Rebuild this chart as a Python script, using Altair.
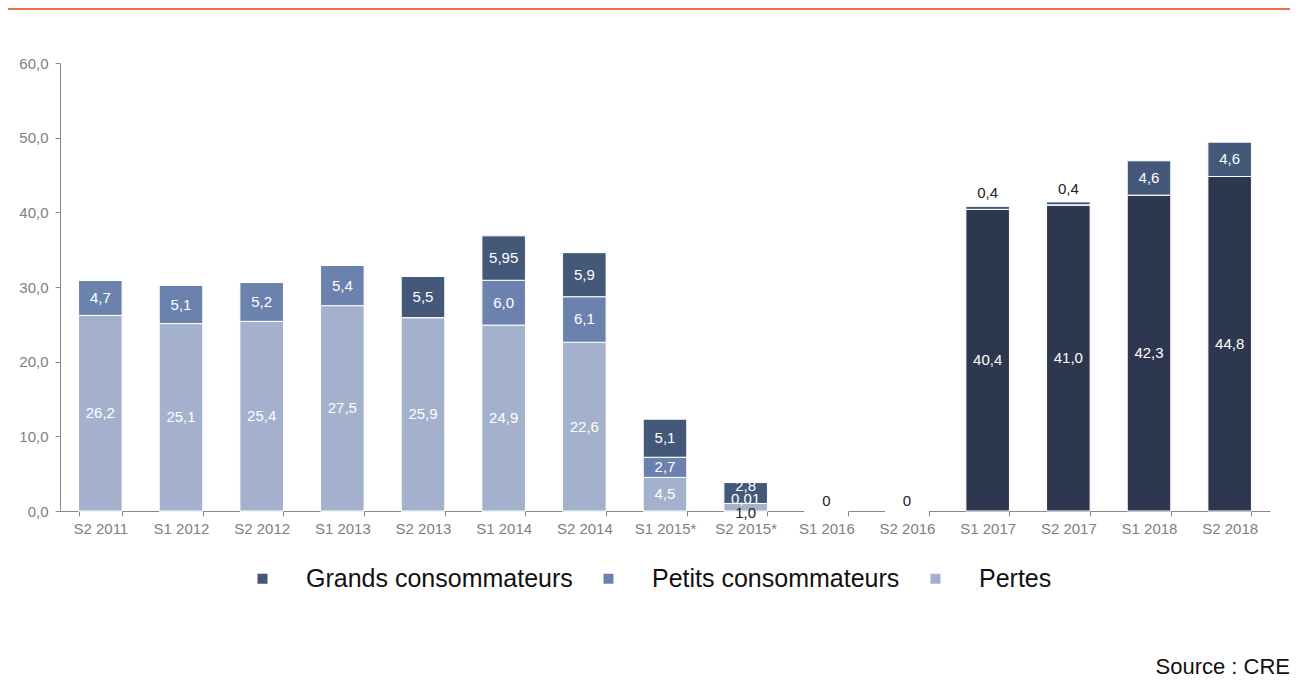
import altair as alt
import pandas as pd

periods = ["S2 2011", "S1 2012", "S2 2012", "S1 2013", "S2 2013", "S1 2014", "S2 2014",
           "S1 2015*", "S2 2015*", "S1 2016", "S2 2016", "S1 2017", "S2 2017", "S1 2018", "S2 2018"]
pertes = [26.2, 25.1, 25.4, 27.5, 25.9, 24.9, 22.6, 4.5, 1.0, 0, 0, 0, 0, 0, 0]
petits = [4.7, 5.1, 5.2, 5.4, 0, 6.0, 6.1, 2.7, 0.01, 0, 0, 0, 0, 0, 0]
grands = [0, 0, 0, 0, 5.5, 5.95, 5.9, 5.1, 2.8, 0, 0, 0.4, 0.4, 4.6, 4.6]
base = [0, 0, 0, 0, 0, 0, 0, 0, 0, 0, 0, 40.4, 41.0, 42.3, 44.8]

series_names = ["Grands consommateurs", "Petits consommateurs", "Pertes", "Base"]
series_colors = ["#44587A", "#6B82AE", "#A4B1CD", "#2D3850"]
stack_order = {"Base": 0, "Pertes": 1, "Petits consommateurs": 2, "Grands consommateurs": 3}

rows = []
for i, p in enumerate(periods):
    for name, vals in [("Base", base), ("Pertes", pertes),
                       ("Petits consommateurs", petits), ("Grands consommateurs", grands)]:
        rows.append({"period": p, "series": name, "value": vals[i], "ord": stack_order[name]})
df = pd.DataFrame(rows)

FONT = "Liberation Sans"
W, H = 1210, 448

xenc = alt.X("period:N", sort=periods, title=None,
             scale=alt.Scale(paddingInner=0.46, paddingOuter=0.23),
             axis=alt.Axis(labelAngle=0, labelColor="#808080", labelFontSize=15, labelFont=FONT,
                           domainColor="#8a8a8a", tickColor="#8a8a8a", tickSize=5,
                           tickBand="extent", labelPadding=5))
yscale = alt.Scale(domain=[0, 60])

bars = alt.Chart(df).mark_bar(stroke="white", strokeWidth=1).encode(
    x=xenc,
    y=alt.Y("value:Q", stack="zero", scale=yscale, title=None,
            axis=alt.Axis(values=[0, 10, 20, 30, 40, 50, 60], grid=False,
                          labelExpr="replace(format(datum.value, '.1f'), '.', ',')",
                          labelColor="#808080", labelFontSize=15, labelFont=FONT,
                          domainColor="#8a8a8a", tickColor="#8a8a8a", tickSize=5, labelPadding=7)),
    color=alt.Color("series:N", scale=alt.Scale(domain=series_names, range=series_colors),
                    legend=alt.Legend(values=series_names[:3], title=None, orient="none",
                                      direction="horizontal", legendX=190, legendY=503,
                                      symbolType="square", symbolSize=100, symbolStrokeWidth=0,
                                      labelFontSize=25, labelFont=FONT, labelColor="#111",
                                      labelLimit=0, labelOffset=31, columnPadding=23,
                                      symbolOpacity=1)),
    order=alt.Order("ord:Q"),
)

lbl_expr = ("datum.value == 0 ? '0' : replace(format(datum.value, "
            "abs(round(datum.value*10) - datum.value*10) < 1e-6 ? '.1f' : '.2f'), '.', ',')")

stacked = alt.Chart(df).transform_stack(
    stack="value", groupby=["period"], sort=[alt.SortField("ord")], as_=["y0", "y1"]
).transform_calculate(mid="(datum.y0 + datum.y1) / 2", lbl=lbl_expr)


def txt(color, dy, baseline="middle"):
    return stacked.mark_text(color=color, fontSize=15, font=FONT, dy=dy, baseline=baseline)


inside = txt("white", 0).transform_filter(
    "datum.value >= 1 && datum.period != 'S2 2015*'"
).encode(x=alt.X("period:N", sort=periods), y=alt.Y("mid:Q", scale=yscale), text="lbl:N")

above = txt("#222", -5, "bottom").transform_filter(
    "datum.value > 0 && datum.value < 1 && datum.period != 'S2 2015*'"
).encode(x=alt.X("period:N", sort=periods), y=alt.Y("y1:Q", scale=yscale), text="lbl:N")

s15_g = txt("white", -7).transform_filter(
    "datum.period == 'S2 2015*' && datum.series == 'Grands consommateurs'"
).encode(x=alt.X("period:N", sort=periods), y=alt.Y("mid:Q", scale=yscale), text="lbl:N")
s15_p = txt("white", -4).transform_filter(
    "datum.period == 'S2 2015*' && datum.series == 'Petits consommateurs'"
).encode(x=alt.X("period:N", sort=periods), y=alt.Y("mid:Q", scale=yscale), text="lbl:N")
s15_l = txt("#222", 6).transform_filter(
    "datum.period == 'S2 2015*' && datum.series == 'Pertes'"
).encode(x=alt.X("period:N", sort=periods), y=alt.Y("mid:Q", scale=yscale), text="lbl:N")

zeros = alt.Chart(df).transform_aggregate(
    total="sum(value)", groupby=["period"]
).transform_filter("datum.total == 0").mark_text(
    color="#222", fontSize=15, font=FONT, baseline="bottom", dy=-2
).encode(x=alt.X("period:N", sort=periods), y=alt.Y("total:Q", scale=yscale),
         text=alt.value("0"))

topline = alt.Chart(pd.DataFrame({"a": [0]})).mark_rule(color="#E9713F", strokeWidth=2).encode(
    x=alt.value(-60), x2=alt.value(W + 40), y=alt.value(-54))

source = alt.Chart(pd.DataFrame({"a": [0]})).mark_text(
    text="Source : CRE", fontSize=22, font=FONT, color="#111", align="right", baseline="middle"
).encode(x=alt.value(W + 20), y=alt.value(604))

chart = alt.layer(bars, inside, above, s15_g, s15_p, s15_l, zeros, topline, source).properties(
    width=W, height=H,
    autosize=alt.AutoSizeParams(type="none"),
    padding={"left": 52, "top": 55, "right": 20, "bottom": 170},
).configure_view(stroke=None).configure_axis(grid=False)

chart.save("out.html", embed_options={"renderer": "svg", "actions": False})
